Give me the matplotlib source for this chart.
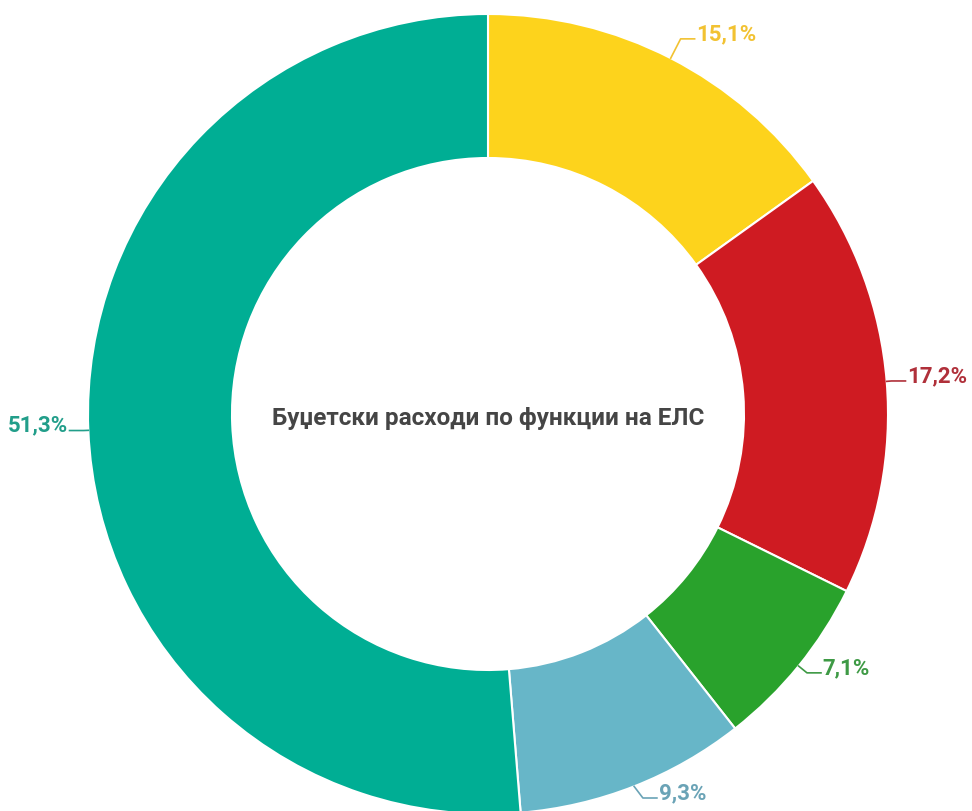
import numpy as np
import matplotlib.pyplot as plt

plt.rcParams['font.family'] = ['Roboto', 'DejaVu Sans']

title = 'Буџетски расходи по функции на ЕЛС'
labels = ['15,1%', '17,2%', '7,1%', '9,3%', '51,3%']
shares = [15.1, 17.2, 7.1, 9.3, 51.3]
colors = ['#FDD31C', '#CF1B22', '#29A22C', '#67B6C8', '#00AE94']
label_colors = ['#F2C232', '#B0303A', '#3E9A45', '#6AA3B6', '#229E8A']

W, H = 972, 812
cx, cy, R = 488, 397, 400  # centre from bottom, in px

fig = plt.figure(figsize=(W / 100, H / 100), dpi=100)
ax = fig.add_axes([0, 0, 1, 1])

wedges, _ = ax.pie(shares, colors=colors, startangle=90, counterclock=False,
                   radius=1.0, wedgeprops=dict(width=0.36, edgecolor='white', linewidth=1.5))

ax.set_xlim(-cx / R, (W - cx) / R)
ax.set_ylim(-cy / R, (H - cy) / R)
ax.set_aspect('equal')
ax.axis('off')

ax.text(0, -0.01, title, ha='center', va='center', fontsize=17.5,
        fontweight='bold', color='#454545')

# leader lines + labels (kept inside the picture at the bottom)
for w, lab, lc in zip(wedges, labels, label_colors):
    ang = np.deg2rad((w.theta1 + w.theta2) / 2)
    x0, y0 = np.cos(ang), np.sin(ang)
    k = 1.0 + 0.06 * abs(y0) ** 3 + 0.012
    x1, y1 = k * x0, max(k * y0, -0.96)
    side = 1 if x0 >= 0 else -1
    x2 = x1 + side * 0.035
    ax.plot([x0, x1, x2], [y0, y1, y1], color=lc, lw=1.2)
    ax.text(x2 + side * 0.004, y1 + 0.015, lab, ha='left' if side > 0 else 'right',
            va='center', fontsize=16, fontweight='bold', color=lc)

fig.savefig('out.png', dpi=100, facecolor='white')
